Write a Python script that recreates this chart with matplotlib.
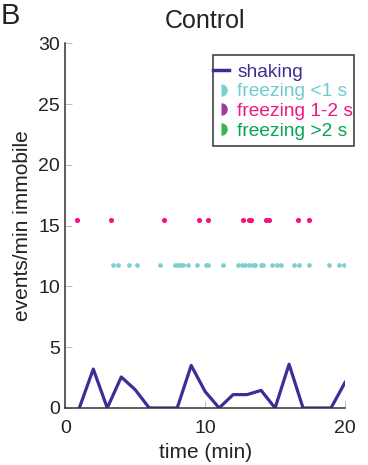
import matplotlib
matplotlib.use('Agg')
import matplotlib.pyplot as plt
from matplotlib.lines import Line2D
from matplotlib.markers import MarkerStyle
from matplotlib.patches import Rectangle

plt.rcParams['font.family'] = ['Liberation Sans', 'DejaVu Sans']

# Colors
COLORS = {
    'shaking': '#3a2f96',
    'short': '#7fcfcf',
    'short_txt': '#6fcbcd',
    'mid': '#f0157f',
    'mid_mark': '#9b3c9e',
    'long_mark': '#3cb44b',
    'long_txt': '#00a651',
}

# Shaking rate per minute bin
shake_t = [1, 2, 3, 4, 5, 6, 7, 8, 9, 10, 11, 12, 13, 14, 15, 16, 17, 18, 19, 20]
shake_rate = [0, 3.2, 0, 2.55, 1.5, 0, 0, 0, 3.5, 1.35, 0, 1.1, 1.1, 1.45, 0, 3.6, 0, 0, 0, 2.1]

# Freezing event times (min)
freeze_short_t = [3.43, 3.79, 4.56, 5.15, 6.77, 7.84, 8.08, 8.25, 8.40, 8.78, 9.44, 10.04,
                  10.21, 11.30, 12.37, 12.62, 12.85, 13.16, 13.45, 13.59, 14.00, 14.16,
                  14.78, 15.12, 15.40, 16.36, 16.74, 17.41, 18.88, 19.60, 19.94]
freeze_short_y = 11.8
freeze_mid_t = [0.82, 3.27, 7.08, 9.56, 10.2, 12.69, 13.12, 13.28, 14.35, 14.55, 16.67, 17.45]
freeze_mid_y = 15.5

fig = plt.figure(figsize=(3.68, 4.65), dpi=100)
ax = fig.add_axes([0.1775, 0.1226, 0.76, 0.7843])

ax.plot(shake_t, shake_rate, color=COLORS['shaking'], linewidth=2.3)
ax.plot(freeze_short_t, [freeze_short_y] * len(freeze_short_t), 'o', color=COLORS['short'],
        markersize=3.4, markeredgewidth=0, linestyle='none')
ax.plot(freeze_mid_t, [freeze_mid_y] * len(freeze_mid_t), 'o', color=COLORS['mid'],
        markersize=3.7, markeredgewidth=0, linestyle='none')

ax.set_xlim(0, 20)
ax.set_ylim(0, 30)
ax.set_xticks([0, 10, 20])
ax.set_yticks([0, 5, 10, 15, 20, 25, 30])
ax.tick_params(direction='in', length=5, width=0.6, color='#b0b0b0',
               labelsize=14, labelcolor='#222222')
ax.tick_params(axis='x', pad=9)
ax.tick_params(axis='y', pad=4)
for side in ['top', 'right']:
    ax.spines[side].set_visible(False)
for side in ['left', 'bottom']:
    ax.spines[side].set_color('#333333')
    ax.spines[side].set_linewidth(1.1)

ax.set_xlabel('time (min)', fontsize=15, color='#222222', labelpad=4)
ax.set_ylabel('events/min immobile', fontsize=15, color='#222222', labelpad=4)
ax.set_title('Control', fontsize=18, color='#222222', pad=11)
fig.text(0.003, 0.995, 'B', fontsize=21, va='top', ha='left', color='#222222')

# Legend with half-circle markers
half = dict(marker=MarkerStyle('o', fillstyle='right'), markersize=9, markeredgewidth=0,
            markerfacecoloralt='none', linestyle='none')
handles = [
    Line2D([], [], color=COLORS['shaking'], linewidth=2.5),
    Line2D([], [], color=COLORS['short'], **half),
    Line2D([], [], color=COLORS['mid_mark'], **half),
    Line2D([], [], color=COLORS['long_mark'], **half),
]
labels = ['shaking', 'freezing <1 s', 'freezing 1-2 s', 'freezing >2 s']
leg = fig.legend(handles, labels, loc='upper left', bbox_to_anchor=(0.579, 0.864),
                 fontsize=13.8, frameon=False, handlelength=0.85,
                 handletextpad=0.42, labelspacing=0.12, borderpad=0, borderaxespad=0)
for txt, c in zip(leg.get_texts(), [COLORS['shaking'], COLORS['short_txt'],
                                    COLORS['mid'], COLORS['long_txt']]):
    txt.set_color(c)

# legend frame drawn separately (tight sides, looser top/bottom)
fig.patches.append(Rectangle((212.5 / 368, 1 - 146.5 / 465), 141.5 / 368, 91.5 / 465,
                             transform=fig.transFigure, fill=False,
                             edgecolor='#333333', linewidth=1.1))

fig.savefig('out.png', dpi=100)
